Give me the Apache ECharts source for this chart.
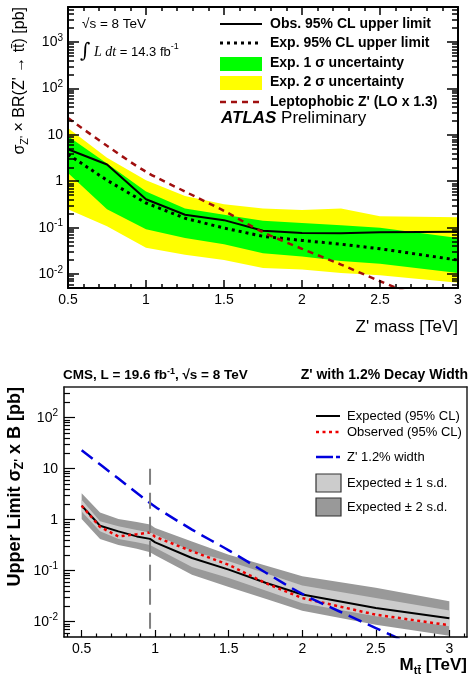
<!DOCTYPE html>
<html><head><meta charset="utf-8">
<script src="https://cdn.jsdelivr.net/npm/echarts@6.0.0/dist/echarts.min.js"></script>
<style>html,body{margin:0;padding:0;background:#fff;}#chart{width:469px;height:682px;}</style>
</head><body><div id="chart"></div>
<script>
// ---------- data: ATLAS (top panel) ----------
const atlasMass = [0.5, 0.75, 1.0, 1.25, 1.5, 1.75, 2.0, 2.25, 2.5, 3.0];
const atlasObs  = [4.9, 2.3, 0.41, 0.19, 0.145, 0.086, 0.077, 0.076, 0.080, 0.082];
const atlasExp  = [3.8, 1.05, 0.34, 0.16, 0.098, 0.065, 0.053, 0.044, 0.035, 0.020];
const atlas1sHi = [9.3, 2.4, 0.60, 0.26, 0.19, 0.14, 0.126, 0.112, 0.099, 0.060];
const atlas1sLo = [1.5, 0.25, 0.092, 0.060, 0.044, 0.028, 0.024, 0.019, 0.0166, 0.0105];
const atlas2sHi = [14, 3.2, 1.05, 0.48, 0.32, 0.26, 0.24, 0.26, 0.176, 0.167];
const atlas2sLo = [0.25, 0.107, 0.037, 0.026, 0.020, 0.0135, 0.0126, 0.0105, 0.0094, 0.0065];
const leptoMass = [0.5, 0.75, 1.0, 1.25, 1.5, 1.75, 2.0, 2.25, 2.5, 2.75, 3.0];
const leptoXsec = [23, 5.8, 1.6, 0.60, 0.23, 0.080, 0.035, 0.016, 0.007, 0.0032, 0.0015];
const atlasYMajor = [0.01, 0.1, 1, 10, 100, 1000];

// ---------- data: CMS (bottom panel) ----------
const cmsMass = [0.5, 0.625, 0.75, 0.875, 0.965, 1.0, 1.25, 1.5, 1.75, 2.0, 2.5, 3.0];
const cmsExp  = [1.88, 0.76, 0.59, 0.47, 0.42, 0.36, 0.177, 0.105, 0.058, 0.034, 0.0185, 0.0116];
const cmsObs  = [1.88, 0.72, 0.47, 0.52, 0.56, 0.46, 0.24, 0.13, 0.057, 0.029, 0.0137, 0.0085];
const cms1sHi = [2.47, 0.93, 0.74, 0.63, 0.56, 0.51, 0.24, 0.153, 0.089, 0.051, 0.029, 0.0166];
const cms1sLo = [1.45, 0.59, 0.42, 0.36, 0.32, 0.28, 0.118, 0.072, 0.041, 0.023, 0.0127, 0.0081];
const cms2sHi = [3.3, 1.39, 1.03, 0.90, 0.80, 0.69, 0.375, 0.206, 0.126, 0.078, 0.046, 0.025];
const cms2sLo = [1.03, 0.42, 0.32, 0.27, 0.23, 0.20, 0.083, 0.048, 0.028, 0.0163, 0.0087, 0.0053];
const zp12Mass = [0.5, 0.75, 1.0, 1.25, 1.5, 1.75, 2.0, 2.25, 2.5, 2.75, 3.0];
const zp12Xsec = [23, 6.4, 1.8, 0.64, 0.25, 0.092, 0.035, 0.016, 0.0075, 0.0035, 0.0017];
const dividerMass = [0.965, 0.965];
const dividerVals = [10, 0.005];
const cmsXLabels = [0.5, 1, 1.5, 2, 2.5, 3];
const cmsXMinor = [0.4,0.6,0.7,0.8,0.9,1.1,1.2,1.3,1.4,1.6,1.7,1.8,1.9,2.1,2.2,2.3,2.4,2.6,2.7,2.8,2.9,3.1];
const cmsYMajor = [0.01, 0.1, 1, 10, 100];

// ---------- helpers ----------
const F = '"Liberation Sans", Arial, Helvetica, sans-serif';
function minorLog(lo, hi) {
  const out = [];
  for (let e = -4; e <= 4; e++) for (let m = 2; m <= 9; m++) {
    const v = m * Math.pow(10, e);
    if (v > lo && v < hi) out.push(+v.toPrecision(3));
  }
  return out;
}
function pairs(xs, ys) { return xs.map((x, i) => [x, ys[i]]); }
function logLabel(v) {
  const e = Math.round(Math.log10(v));
  if (e === 0) return '{n|1}';
  if (e === 1) return '{n|10}';
  return '{n|10}{s|' + e + '}';
}
const labRich = {
  n: { fontSize: 14, fontFamily: F, color: '#000', lineHeight: 18 },
  s: { fontSize: 10, fontFamily: F, color: '#000', lineHeight: 10, verticalAlign: 'top' }
};
function band(name, xs, lo, hi, color, xi, yi, z) {
  return {
    type: 'custom', name, xAxisIndex: xi, yAxisIndex: yi, silent: true, clip: true, z,
    encode: { x: 0, y: [1, 2] },
    data: xs.map((x, i) => [x, lo[i], hi[i]]),
    renderItem(params, api) {
      if (params.dataIndex !== 0) return null;
      const up = xs.map((x, i) => api.coord([x, hi[i]]));
      const dn = xs.map((x, i) => api.coord([x, lo[i]])).reverse();
      return { type: 'polygon', shape: { points: up.concat(dn) }, style: { fill: color, stroke: null } };
    }
  };
}
function line(name, xs, ys, color, width, type, xi, yi, z, smooth) {
  return {
    type: 'line', name, xAxisIndex: xi, yAxisIndex: yi, data: pairs(xs, ys), showSymbol: false,
    symbol: 'none', smooth: smooth || false, clip: true, silent: true, z,
    lineStyle: { color, width, type, cap: 'butt' }, animation: false
  };
}

const tAxisLine = { show: true, lineStyle: { color: '#000', width: 2 } };
const noLine = { show: false };

const xAxes = [
  { type: 'value', gridIndex: 0, position: 'bottom', min: 0.5, max: 3, interval: 0.5, z: 10,
    axisLine: tAxisLine, splitLine: { show: false },
    axisTick: { inside: true, length: 8, lineStyle: { color: '#000', width: 1.5 } },
    minorTick: { show: true, splitNumber: 5, length: 4, lineStyle: { color: '#000', width: 1.5 } },
    axisLabel: { margin: 5, color: '#000', fontSize: 14, fontFamily: F } },
  { type: 'value', gridIndex: 0, position: 'top', min: 0.5, max: 3, interval: 0.5, z: 10,
    axisLine: tAxisLine, splitLine: { show: false },
    axisTick: { inside: true, length: 8, lineStyle: { color: '#000', width: 1.5 } },
    minorTick: { show: true, splitNumber: 5, length: 4, lineStyle: { color: '#000', width: 1.5 } },
    axisLabel: { show: false } },
  { type: 'value', gridIndex: 1, position: 'bottom', min: 0.38, max: 3.12, z: 10,
    axisLine: { show: true, lineStyle: { color: '#000', width: 1.5 } }, splitLine: { show: false },
    axisTick: { inside: true, length: 7, customValues: cmsXLabels, lineStyle: { color: '#000', width: 1.2 } },
    axisLabel: { customValues: cmsXLabels, margin: 5, color: '#000', fontSize: 14, fontFamily: F,
      formatter: v => String(v) } },
  { type: 'value', gridIndex: 1, position: 'bottom', min: 0.38, max: 3.12, z: 10,
    axisLine: noLine, splitLine: { show: false },
    axisTick: { inside: true, length: 3.5, customValues: cmsXMinor, lineStyle: { color: '#000', width: 1.2 } },
    axisLabel: { show: false } },
  { type: 'value', gridIndex: 1, position: 'top', min: 0.38, max: 3.12, z: 10,
    axisLine: { show: true, lineStyle: { color: '#222', width: 1.5 } }, splitLine: { show: false },
    axisTick: { show: false }, axisLabel: { show: false } }
];
const atlasMinor = minorLog(0.005, 5700);
const cmsMinor = minorLog(0.005, 400);
const yAxes = [
  { type: 'log', gridIndex: 0, position: 'left', min: 0.005, max: 5700, z: 10,
    axisLine: tAxisLine, splitLine: { show: false },
    axisTick: { inside: true, length: 11, customValues: atlasYMajor, lineStyle: { color: '#000', width: 1.5 } },
    axisLabel: { customValues: atlasYMajor, margin: 5, formatter: logLabel, rich: labRich } },
  { type: 'log', gridIndex: 0, position: 'left', min: 0.005, max: 5700, z: 10,
    axisLine: noLine, splitLine: { show: false },
    axisTick: { inside: true, length: 6, customValues: atlasMinor, lineStyle: { color: '#000', width: 1.5 } },
    axisLabel: { show: false } },
  { type: 'log', gridIndex: 0, position: 'right', min: 0.005, max: 5700, z: 10,
    axisLine: tAxisLine, splitLine: { show: false },
    axisTick: { inside: true, length: 11, customValues: atlasYMajor, lineStyle: { color: '#000', width: 1.5 } },
    axisLabel: { show: false } },
  { type: 'log', gridIndex: 0, position: 'right', min: 0.005, max: 5700, z: 10,
    axisLine: noLine, splitLine: { show: false },
    axisTick: { inside: true, length: 6, customValues: atlasMinor, lineStyle: { color: '#000', width: 1.5 } },
    axisLabel: { show: false } },
  { type: 'log', gridIndex: 1, position: 'left', min: 0.005, max: 400, z: 10,
    axisLine: { show: true, lineStyle: { color: '#000', width: 1.5 } }, splitLine: { show: false },
    axisTick: { inside: true, length: 11, customValues: cmsYMajor, lineStyle: { color: '#000', width: 1.2 } },
    axisLabel: { customValues: cmsYMajor, margin: 6, formatter: logLabel, rich: labRich } },
  { type: 'log', gridIndex: 1, position: 'left', min: 0.005, max: 400, z: 10,
    axisLine: noLine, splitLine: { show: false },
    axisTick: { inside: true, length: 6, customValues: cmsMinor, lineStyle: { color: '#000', width: 1.2 } },
    axisLabel: { show: false } },
  { type: 'log', gridIndex: 1, position: 'right', min: 0.005, max: 400, z: 10,
    axisLine: { show: true, lineStyle: { color: '#222', width: 1.5 } }, splitLine: { show: false },
    axisTick: { show: false }, axisLabel: { show: false } }
];

const series = [
  band('Exp. 2 σ uncertainty', atlasMass, atlas2sLo, atlas2sHi, '#ffff00', 0, 0, 1),
  band('Exp. 1 σ uncertainty', atlasMass, atlas1sLo, atlas1sHi, '#00ff00', 0, 0, 2),
  line('Exp. 95% CL upper limit', atlasMass, atlasExp, '#000', 3, [3, 4], 0, 0, 3),
  line('Obs. 95% CL upper limit', atlasMass, atlasObs, '#000', 2, 'solid', 0, 0, 4),
  line("Leptophobic Z' (LO x 1.3)", leptoMass, leptoXsec, '#a00f0f', 2.5, [6, 5], 0, 0, 5, 0.3),

  band('Expected ± 2 s.d.', cmsMass, cms2sLo, cms2sHi, '#999999', 2, 4, 1),
  band('Expected ± 1 s.d.', cmsMass, cms1sLo, cms1sHi, '#cccccc', 2, 4, 2),
  line('Expected (95% CL)', cmsMass, cmsExp, '#000', 2, 'solid', 2, 4, 3),
  line('Observed (95% CL)', cmsMass, cmsObs, '#ee0000', 2.5, [3, 3.5], 2, 4, 4),
  line("Z' 1.2% width", zp12Mass, zp12Xsec, '#0000dd', 2.5, [14, 7], 2, 4, 5, 0.3),
  line('divider', dividerMass, dividerVals, '#808080', 2, [16, 8], 2, 4, 6)
];

// ---------- annotation / legend graphics ----------
const g = [];
function T(x, y, text, font, align) {
  g.push({ type: 'text', x, y, z: 50,
    style: { text, font: font, fill: '#000', align: align || 'left', verticalAlign: 'middle' } });
}
function richT(x, y, text, font, rich, extra, align) {
  g.push(Object.assign({ type: 'text', x, y, z: 50,
    style: { text, font: font, fill: '#000', align: align || 'left', verticalAlign: 'middle', rich } }, extra || {}));
}
function L(x1, y1, x2, y2, color, width, dash) {
  g.push({ type: 'line', z: 50, shape: { x1, y1, x2, y2 },
    style: { stroke: color, lineWidth: width, lineDash: dash || null } });
}
function R(x, y, w, h, fill, stroke) {
  g.push({ type: 'rect', z: 50, shape: { x, y, width: w, height: h },
    style: { fill, stroke: stroke || null, lineWidth: stroke ? 1.2 : 0 } });
}
const boldL = 'bold 14px ' + F;
// top legend
L(220, 24, 262, 24, '#000', 2);
T(270, 24, 'Obs. 95% CL upper limit', boldL);
L(220, 43, 262, 43, '#000', 3, [3, 4]);
T(270, 43, 'Exp. 95% CL upper limit', boldL);
R(220, 57, 42, 14, '#00ff00');
T(270, 63, 'Exp. 1 σ uncertainty', boldL);
R(220, 76, 42, 14, '#ffff00');
T(270, 82, 'Exp. 2 σ uncertainty', boldL);
L(220, 102, 262, 102, '#a00f0f', 2.5, [6, 5]);
T(270, 102, "Leptophobic Z' (LO x 1.3)", boldL);
richT(221, 118, '{a|ATLAS} {b|Preliminary}', '17px ' + F, {
  a: { font: 'italic bold 17px ' + F, fill: '#000' },
  b: { font: '17px ' + F, fill: '#000' } });
T(82, 24, '√s = 8 TeV', '13.5px ' + F);
richT(80, 52, '{i|∫} {l|L dt} {n|= 14.3 fb}{s|-1}', '13px ' + F, {
  i: { font: '20px "DejaVu Serif", serif', fill: '#000' },
  l: { font: 'italic 14px "Liberation Serif", serif', fill: '#000' },
  n: { font: '13px ' + F, fill: '#000', lineHeight: 18 },
  s: { font: '9px ' + F, fill: '#000', verticalAlign: 'top', lineHeight: 9 } });
// top axis titles
T(458, 327, "Z' mass [TeV]", '17px ' + F, 'right');
richT(20, 7, "{n|σ}{b|Z'} {n|× BR(Z' → tt̄) [pb]}", '16px ' + F, {
  n: { font: '16px ' + F, fill: '#000', lineHeight: 20 },
  b: { font: '11px ' + F, fill: '#000', verticalAlign: 'bottom', lineHeight: 12 } },
  { rotation: Math.PI / 2 }, 'right');

// bottom titles
richT(63, 375, '{n|CMS, L = 19.6 fb}{s|-1}{n|, √s = 8 TeV}', 'bold 13.5px ' + F, {
  n: { font: 'bold 13.5px ' + F, fill: '#000', lineHeight: 16 },
  s: { font: 'bold 9px ' + F, fill: '#000', verticalAlign: 'top', lineHeight: 8 } });
T(468, 375, "Z' with 1.2% Decay Width", 'bold 14px ' + F, 'right');
// bottom legend
const n13 = '13px ' + F;
L(316, 416, 340, 416, '#000', 2);
T(347, 416, 'Expected (95% CL)', n13);
L(316, 432, 340, 432, '#ee0000', 2.5, [3, 3.5]);
T(347, 432, 'Observed (95% CL)', n13);
L(316, 457, 340, 457, '#0000dd', 2.5, [17, 3]);
T(347, 457, "Z' 1.2% width", n13);
R(316, 474, 25, 18, '#cccccc', '#333');
T(347, 483, 'Expected ± 1 s.d.', n13);
R(316, 498, 25, 18, '#999999', '#333');
T(347, 507, 'Expected ± 2 s.d.', n13);
// bottom axis titles
richT(467, 665, '{n|M}{b|tt̄}{n| [TeV]}', 'bold 17px ' + F, {
  n: { font: 'bold 17px ' + F, fill: '#000', lineHeight: 22 },
  b: { font: 'bold 11px ' + F, fill: '#000', verticalAlign: 'bottom', lineHeight: 12 } }, null, 'right');
richT(15, 387, "{n|Upper Limit σ}{b|Z'}{n| x B [pb]}", 'bold 18px ' + F, {
  n: { font: 'bold 18px ' + F, fill: '#000', lineHeight: 22 },
  b: { font: 'bold 12px ' + F, fill: '#000', verticalAlign: 'bottom', lineHeight: 12 } },
  { rotation: Math.PI / 2 }, 'right');

const chart = echarts.init(document.getElementById('chart'), null, { renderer: 'canvas' });
chart.setOption({
  animation: false,
  backgroundColor: '#fff',
  grid: [
    { left: 68, right: 11, top: 7, bottom: 394, containLabel: false },
    { left: 64, right: 2, top: 387, bottom: 45, containLabel: false }
  ],
  xAxis: xAxes,
  yAxis: yAxes,
  series,
  graphic: g
});
</script>
</body></html>
